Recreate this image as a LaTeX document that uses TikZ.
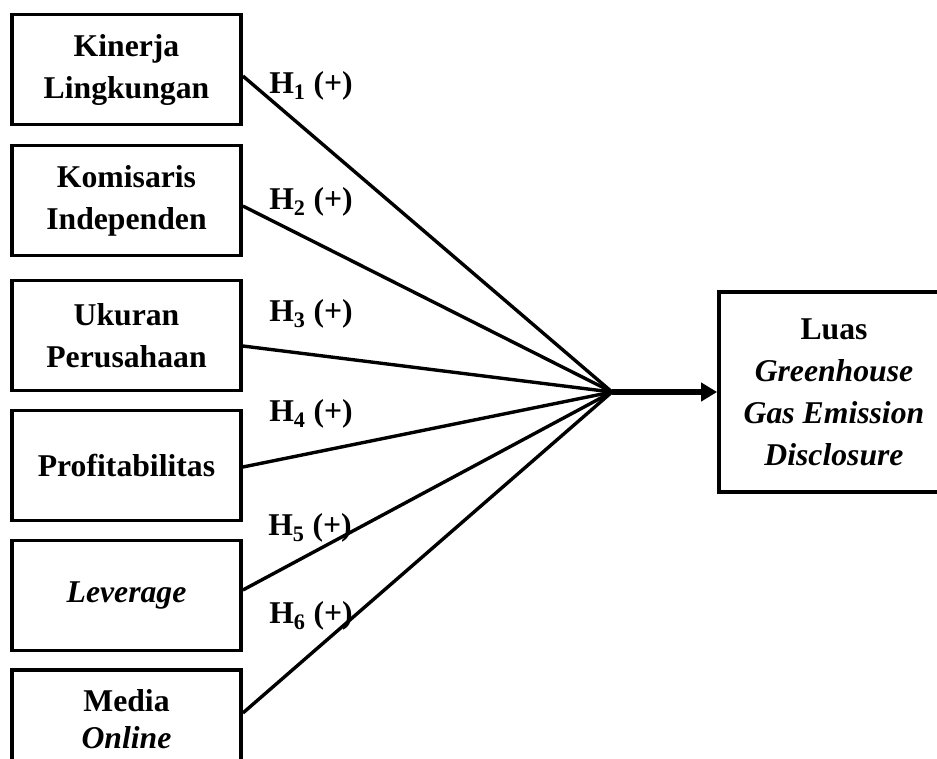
\documentclass[tikz,border=0pt]{standalone}
\usepackage{fontspec}
\setmainfont{Liberation Serif}
\usetikzlibrary{arrows.meta}
\tikzstyle{varbox} = [rectangle, draw=black, line width=3.8pt, minimum width=229pt, minimum height=110pt, text centered, align=center, font=\fontsize{31.7}{42}\selectfont\bfseries]
\tikzstyle{hyp} = [inner sep=0pt, font=\fontsize{31.7}{38}\selectfont\bfseries]
\tikzstyle{link} = [line width=3.4pt]
\tikzstyle{arrow} = [line width=6pt, -{Triangle[length=16pt,width=18pt]}]

\begin{document}
\begin{tikzpicture}[x=1pt, y=-1pt, node distance=130pt]
\useasboundingbox (0,0) rectangle (937,758);
\clip (0,0) rectangle (937,758);
\node (b1) [varbox] at (126.5,69.5) {Kinerja\\Lingkungan};
\node (b2) [varbox, below of=b1, yshift=-1pt] {Komisaris\\Independen};
\node (b3) [varbox, below of=b2, yshift=-5pt] {Ukuran\\Perusahaan};
\node (b4) [varbox, below of=b3] {Profitabilitas};
\node (b5) [varbox, below of=b4] {\textit{Leverage}};
\node (b6) [varbox, below of=b5, yshift=6pt, minimum height=99pt] {Media\\[-5pt]\textit{Online}};
\node (out) [varbox, minimum width=230pt, minimum height=200pt] at (834,392) {Luas\\\textit{Greenhouse}\\\textit{Gas Emission}\\\textit{Disclosure}};
\coordinate (hub) at (612,392);
\node (h1) [hyp] at (311,86) {H\textsubscript{1} (+)};
\node (h2) [hyp] at (311,202) {H\textsubscript{2} (+)};
\node (h3) [hyp] at (311,314) {H\textsubscript{3} (+)};
\node (h4) [hyp] at (311,414) {H\textsubscript{4} (+)};
\node (h5) [hyp] at (310,528) {H\textsubscript{5} (+)};
\node (h6) [hyp] at (311,616) {H\textsubscript{6} (+)};
\draw [link] ([yshift=-6.5pt]b1.east) -- (hub);
\draw [link] ([yshift=-5.5pt]b2.east) -- (hub);
\draw [link] ([yshift=-10.5pt]b3.east) -- (hub);
\draw [link] ([yshift=-1.5pt]b4.east) -- (hub);
\draw [link] ([yshift=5.5pt]b5.east) -- (hub);
\draw [link] ([yshift=6.5pt]b6.east) -- (hub);
\draw [arrow] (hub) -- (out.west);
\end{tikzpicture}
\end{document}
